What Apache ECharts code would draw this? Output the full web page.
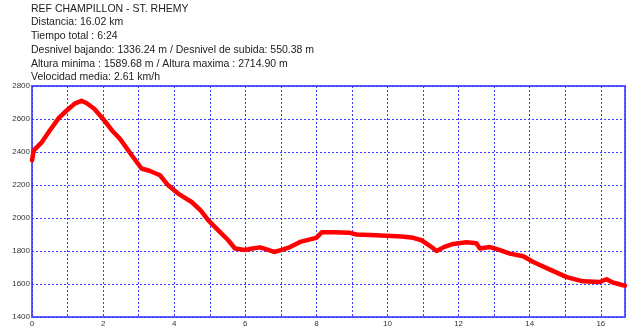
<!DOCTYPE html>
<html>
<head>
<meta charset="utf-8">
<script src="https://cdn.jsdelivr.net/npm/echarts@6/dist/echarts.min.js"></script>
<style>
html,body{margin:0;padding:0;background:#fff;}
#chart{width:640px;height:333px;}
</style>
</head>
<body>
<div id="chart"></div>
<script>
const titleLines = [
  'REF CHAMPILLON - ST. RHEMY',
  'Distancia: 16.02 km',
  'Tiempo total : 6:24',
  'Desnivel bajando: 1336.24 m / Desnivel de subida: 550.38 m',
  'Altura minima : 1589.68 m / Altura maxima : 2714.90 m',
  'Velocidad media: 2.61 km/h'
];
const distanceKm = [0, 0.05, 0.26, 0.5, 0.75, 0.97, 1.2, 1.39, 1.53, 1.75, 2.0, 2.29, 2.47, 2.76, 3.08, 3.32, 3.6, 3.83, 4.11, 4.49, 4.75, 4.96, 5.24, 5.52, 5.71, 5.99, 6.2, 6.41, 6.6, 6.81, 7.05, 7.26, 7.54, 7.91, 8.0, 8.15, 8.5, 8.94, 9.13, 9.5, 9.97, 10.4, 10.72, 10.96, 11.2, 11.38, 11.6, 11.85, 12.22, 12.5, 12.6, 12.88, 13.1, 13.44, 13.82, 14.1, 14.57, 15.04, 15.5, 15.97, 16.16, 16.35, 16.5, 16.63, 16.68];
const altitudeM = [2350, 2410, 2455, 2530, 2605, 2650, 2693, 2710, 2697, 2662, 2600, 2521, 2481, 2394, 2300, 2285, 2259, 2198, 2148, 2097, 2045, 1986, 1925, 1865, 1815, 1806, 1815, 1822, 1810, 1794, 1808, 1824, 1855, 1875, 1880, 1913, 1913, 1910, 1900, 1897, 1892, 1888, 1880, 1865, 1830, 1800, 1825, 1843, 1853, 1847, 1815, 1824, 1810, 1784, 1768, 1733, 1687, 1642, 1616, 1612, 1629, 1608, 1600, 1592, 1590];
const yTicks = [1400, 1600, 1800, 2000, 2200, 2400, 2600, 2800];
const xMax = 16.68;

const titleTops = [3.5, 17, 31, 45, 58.5, 72];
const chart = echarts.init(document.getElementById('chart'), null, {renderer: 'canvas'});
const points = distanceKm.map((d, i) => [d, altitudeM[i]]);
const gridBlue = '#3a3aff';
const font = '"Liberation Sans", Arial, sans-serif';

chart.setOption({
  animation: false,
  backgroundColor: '#ffffff',
  graphic: titleLines.map((t, i) => ({
    type: 'text', left: 31, top: titleTops[i],
    style: {text: t, font: '10.5px ' + font, fill: '#222222'}
  })),
  grid: {left: 32, top: 86, right: 15, bottom: 16, show: true, borderColor: '#5c5cff', borderWidth: 2, backgroundColor: 'transparent'},
  xAxis: {
    type: 'value', min: 0, max: xMax, interval: 1,
    axisLine: {show: false}, axisTick: {show: false},
    splitLine: {show: true, lineStyle: {color: gridBlue, type: [2, 2], width: 1}},
    axisLabel: {
      fontSize: 8, fontFamily: font, color: '#333', margin: 3, showMaxLabel: false,
      formatter: v => (Math.abs(v - Math.round(v)) < 1e-6 && Math.round(v) % 2 === 0) ? String(Math.round(v)) : ''
    }
  },
  yAxis: {
    type: 'value', min: yTicks[0], max: yTicks[yTicks.length - 1], interval: 200,
    axisLine: {show: false}, axisTick: {show: false},
    splitLine: {show: true, lineStyle: {color: gridBlue, type: [2, 2], width: 1}},
    axisLabel: {
      fontSize: 8, fontFamily: font, color: '#333', margin: 2,
      verticalAlign: 'middle', padding: [0, 0, 5, 0],
      formatter: v => yTicks.includes(v) ? String(v) : ''
    }
  },
  series: [{
    type: 'line', data: points, showSymbol: false, symbol: 'none',
    lineStyle: {color: '#ff0000', width: 4.5, join: 'round', cap: 'round'},
    clip: false
  }]
});
</script>
</body>
</html>
